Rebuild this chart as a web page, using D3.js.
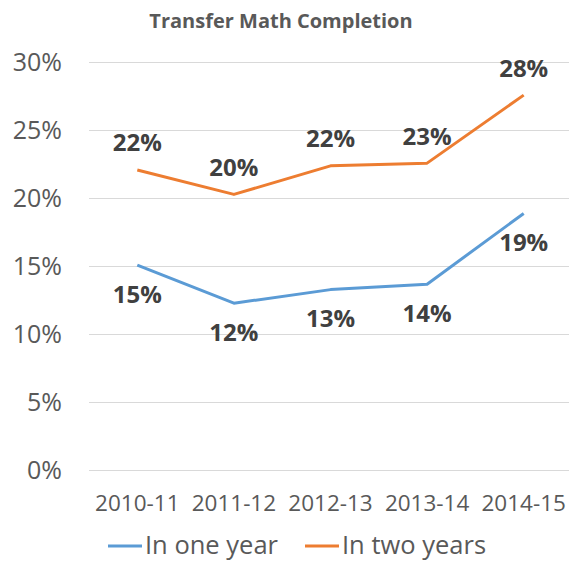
<!DOCTYPE html>
<html lang="en">
<head>
<meta charset="utf-8">
<title>Transfer Math Completion</title>
<script src="https://d3js.org/d3.v7.min.js"></script>
<style>
  body { margin: 0; background: #fff; }
  text { font-family: "Open Sans", sans-serif; }
</style>
</head>
<body>
<script>
    // values
    var years = ["2010-11", "2011-12", "2012-13", "2013-14", "2014-15"];
    var oneYear = [0.151, 0.123, 0.133, 0.137, 0.189];
    var twoYears = [0.221, 0.203, 0.224, 0.226, 0.276];
    var yTicks = [0, 0.05, 0.10, 0.15, 0.20, 0.25, 0.30];
    var seriesNames = ["In one year", "In two years"];
    var colors = ["#5B9BD5", "#ED7D31"];

    var width = 569, height = 562;
    var margin = {top: 62.5, right: -3, bottom: 91.5, left: 89};

    var svg = d3.select("body").append("svg")
        .attr("width", width)
        .attr("height", height);

    var x = d3.scaleBand()
        .domain(years)
        .range([margin.left, width - margin.right]);

    var y = d3.scaleLinear()
        .domain([0, 0.30])
        .range([height - margin.bottom, margin.top]);

    // title
    svg.append("text")
        .attr("x", 281)
        .attr("y", 28)
        .attr("text-anchor", "middle")
        .attr("font-size", 20)
        .attr("font-weight", "bold")
        .attr("fill", "#595959")
        .text("Transfer Math Completion");

    // gridlines
    svg.append("g")
        .selectAll("line")
        .data(yTicks)
        .join("line")
        .attr("x1", margin.left)
        .attr("x2", width)
        .attr("y1", d => y(d))
        .attr("y2", d => y(d))
        .attr("stroke", "#d9d9d9")
        .attr("stroke-width", 1);

    // y axis labels
    svg.append("g")
        .selectAll("text")
        .data(yTicks)
        .join("text")
        .attr("x", 62)
        .attr("y", d => y(d))
        .attr("dy", "0.35em")
        .attr("text-anchor", "end")
        .attr("font-size", 25)
        .attr("fill", "#595959")
        .text(d3.format(".0%"));

    // x axis labels
    svg.append("g")
        .selectAll("text")
        .data(years)
        .join("text")
        .attr("x", d => x(d) + x.bandwidth() / 2)
        .attr("y", 503)
        .attr("dy", "0.35em")
        .attr("text-anchor", "middle")
        .attr("font-size", 22.5)
        .attr("fill", "#595959")
        .text(d => d);

    var line = d3.line()
        .x((d, i) => x(years[i]) + x.bandwidth() / 2)
        .y(d => y(d));

    var series = [oneYear, twoYears];

    svg.append("g")
        .selectAll("path")
        .data(series)
        .join("path")
        .attr("d", line)
        .attr("fill", "none")
        .attr("stroke", (d, i) => colors[i])
        .attr("stroke-width", 3)
        .attr("stroke-linejoin", "round");

    // data labels: two years above, one year below
    svg.append("g")
        .selectAll("text")
        .data(twoYears)
        .join("text")
        .attr("x", (d, i) => x(years[i]) + x.bandwidth() / 2)
        .attr("y", d => y(d) - 27)
        .attr("dy", "0.35em")
        .attr("text-anchor", "middle")
        .attr("font-size", 24)
        .attr("font-weight", "bold")
        .attr("fill", "#404040")
        .text(d3.format(".0%"));

    svg.append("g")
        .selectAll("text")
        .data(oneYear)
        .join("text")
        .attr("x", (d, i) => x(years[i]) + x.bandwidth() / 2)
        .attr("y", d => y(d) + 29)
        .attr("dy", "0.35em")
        .attr("text-anchor", "middle")
        .attr("font-size", 24)
        .attr("font-weight", "bold")
        .attr("fill", "#404040")
        .text(d3.format(".0%"));

    // legend
    var legendX = [108, 305];
    var legend = svg.append("g")
        .selectAll("g")
        .data(seriesNames)
        .join("g")
        .attr("transform", (d, i) => "translate(" + legendX[i] + ",546)");

    legend.append("line")
        .attr("x1", 0)
        .attr("x2", 34)
        .attr("stroke", (d, i) => colors[i])
        .attr("stroke-width", 3);

    legend.append("text")
        .attr("x", 37)
        .attr("dy", "0.33em")
        .attr("font-size", 25.5)
        .attr("fill", "#595959")
        .text(d => d);
</script>
</body>
</html>
